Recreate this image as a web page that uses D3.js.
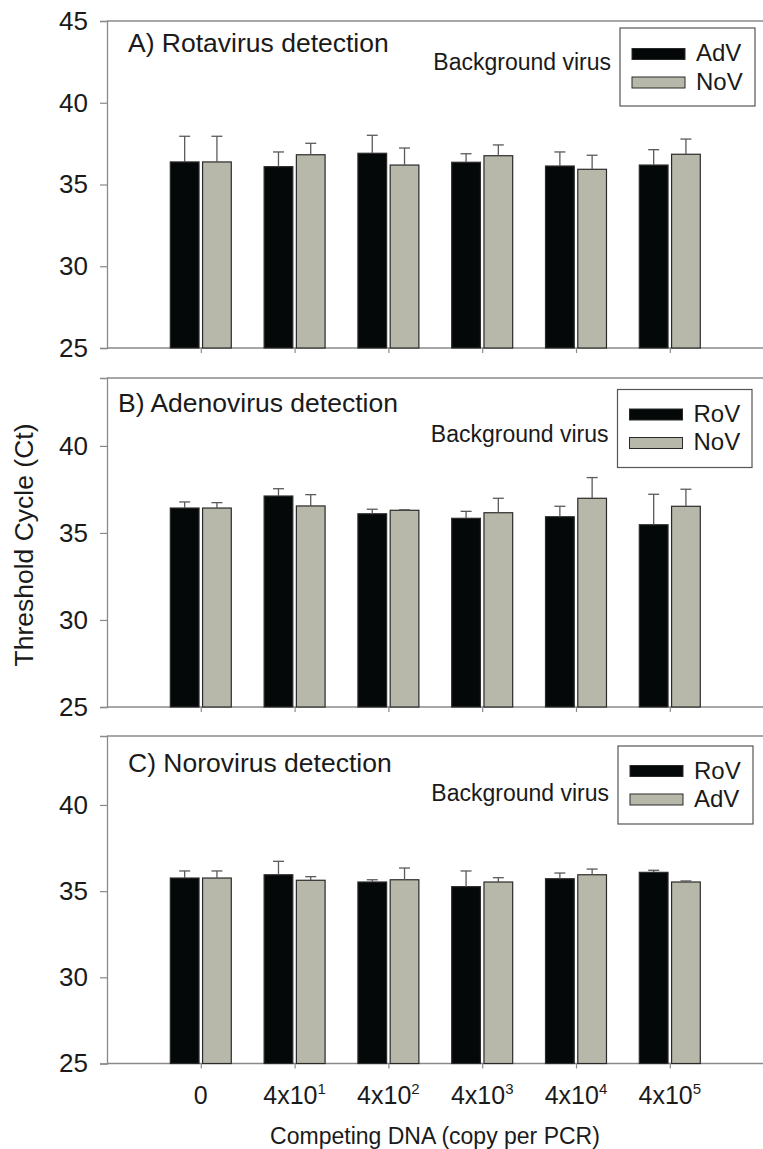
<!DOCTYPE html>
<html>
<head>
<meta charset="utf-8">
<script src="https://cdn.jsdelivr.net/npm/d3@7"></script>
<style>
  html, body { margin: 0; padding: 0; background: #ffffff; }
  svg { display: block; }
  text { font-family: "Liberation Sans", Arial, sans-serif; fill: #1a1a1a; }
</style>
</head>
<body>
<div id="chart"></div>
<script>
// ---------- DATA ----------
const categories = ["0", "4x10^1", "4x10^2", "4x10^3", "4x10^4", "4x10^5"];
const tickBase = ["0", "4x10", "4x10", "4x10", "4x10", "4x10"];
const tickExp  = ["", "1", "2", "3", "4", "5"];

const panelTitles = ["A) Rotavirus detection", "B) Adenovirus detection", "C) Norovirus detection"];
const legendTitle = "Background virus";
const seriesNamesA = ["AdV", "NoV"];
const seriesNamesB = ["RoV", "NoV"];
const seriesNamesC = ["RoV", "AdV"];

// Panel A: Rotavirus detection
const rotaAdV    = [36.38, 36.09, 36.91, 36.36, 36.13, 36.19];
const rotaAdVErr = [1.57, 0.90, 1.10, 0.52, 0.86, 0.94];
const rotaNoV    = [36.38, 36.82, 36.19, 36.76, 35.93, 36.85];
const rotaNoVErr = [1.57, 0.70, 1.04, 0.66, 0.86, 0.93];

// Panel B: Adenovirus detection
const adenoRoV    = [36.43, 37.12, 36.10, 35.84, 35.93, 35.47];
const adenoRoVErr = [0.35, 0.42, 0.26, 0.40, 0.60, 1.75];
const adenoNoV    = [36.43, 36.55, 36.30, 36.16, 36.99, 36.53];
const adenoNoVErr = [0.31, 0.65, 0.03, 0.83, 1.19, 0.98];

// Panel C: Norovirus detection
const noroRoV    = [35.76, 35.95, 35.53, 35.26, 35.72, 36.09];
const noroRoVErr = [0.41, 0.78, 0.13, 0.91, 0.33, 0.12];
const noroAdV    = [35.76, 35.63, 35.66, 35.53, 35.95, 35.53];
const noroAdVErr = [0.41, 0.21, 0.68, 0.25, 0.33, 0.06];

const yTicksA = [25, 30, 35, 40, 45];
const yTicksBC = [25, 30, 35, 40];

const axisTitleY = "Threshold Cycle (Ct)";
const axisTitleX = "Competing DNA (copy per PCR)";

// ---------- LAYOUT ----------
const W = 763, H = 1149;
const colBlack = "#050808", colGray = "#b8b8aa";
const axisCol = "#8a8a8a";

const svg = d3.select("#chart").append("svg").attr("width", W).attr("height", H);

const x = d3.scaleLinear().domain([0, 7]).range([107, 763.6]);
const series = d3.scaleBand().domain([0, 1]).range([-0.325, 0.325]).paddingInner(0.11);

const panels = [
  { title: panelTitles[0], names: seriesNamesA, vals: [rotaAdV, rotaNoV], errs: [rotaAdVErr, rotaNoVErr],
    domain: [25, 45], range: [348, 21], ticks: yTicksA, titleXY: [128, 52],
    legend: { box: [620, 28, 135, 78], t1: 61, t2: 89.5, sw1: 48.5, sw2: 77, bg: 70 } },
  { title: panelTitles[1], names: seriesNamesB, vals: [adenoRoV, adenoNoV], errs: [adenoRoVErr, adenoNoVErr],
    domain: [25, 43.9], range: [707, 378], ticks: yTicksBC, titleXY: [118, 412],
    legend: { box: [617.5, 389.5, 134.5, 78], t1: 422, t2: 450, sw1: 409, sw2: 437.5, bg: 441.5 } },
  { title: panelTitles[2], names: seriesNamesC, vals: [noroRoV, noroAdV], errs: [noroRoVErr, noroAdVErr],
    domain: [25, 44], range: [1063.5, 736], ticks: yTicksBC, titleXY: [128, 772],
    legend: { box: [618, 746, 135, 78], t1: 779, t2: 807, sw1: 765.5, sw2: 794, bg: 801 } }
];

panels.forEach((p, pi) => {
  const y = d3.scaleLinear().domain(p.domain).range(p.range);
  const g = svg.append("g");

  // frame: top line
  g.append("line").attr("x1", x(0)).attr("x2", W).attr("y1", y(p.domain[1])).attr("y2", y(p.domain[1]))
    .attr("stroke", axisCol).attr("stroke-width", 1.3);

  // y axis
  const yAxis = d3.axisLeft(y).tickValues(p.ticks).tickSize(7).tickPadding(12).tickFormat(d3.format("d"));
  const ya = g.append("g").attr("transform", `translate(${x(0)},0)`).call(yAxis);
  ya.select(".domain").attr("stroke", axisCol).attr("stroke-width", 1.3);
  ya.selectAll(".tick line").attr("stroke", axisCol).attr("stroke-width", 1.2);
  ya.selectAll(".tick text").attr("font-size", 26).attr("fill", "#1a1a1a")
    .attr("font-family", "'Liberation Sans', Arial, sans-serif");

  // x axis
  const xAxis = d3.axisBottom(x).tickValues(d3.range(1, 7)).tickSize(5).tickFormat("");
  const xa = g.append("g").attr("transform", `translate(0,${y(p.domain[0])})`).call(xAxis);
  xa.select(".domain").attr("stroke", axisCol).attr("stroke-width", 1.3).attr("d", `M${x(0)},0H${W}`);
  xa.selectAll(".tick line").attr("stroke", axisCol).attr("stroke-width", 1.2);

  // bars
  [0, 1].forEach(si => {
    const bw = x(series.bandwidth()) - x(0);
    g.selectAll(null).data(p.vals[si]).enter().append("rect")
      .attr("x", (d, i) => x(i + 1 + series(si)))
      .attr("width", bw)
      .attr("y", d => y(d))
      .attr("height", d => y(p.domain[0]) - y(d))
      .attr("fill", si === 0 ? colBlack : colGray)
      .attr("stroke", "#2a2a2a").attr("stroke-width", 1.2);

    // error bars (upward)
    const cx = i => x(i + 1 + series(si)) + bw / 2;
    g.selectAll(null).data(p.vals[si]).enter().append("line")
      .attr("x1", (d, i) => cx(i)).attr("x2", (d, i) => cx(i))
      .attr("y1", d => y(d)).attr("y2", (d, i) => y(d + p.errs[si][i]))
      .attr("stroke", "#5a5a5a").attr("stroke-width", 1.3);
    g.selectAll(null).data(p.vals[si]).enter().append("line")
      .attr("x1", (d, i) => cx(i) - 5.5).attr("x2", (d, i) => cx(i) + 5.5)
      .attr("y1", (d, i) => y(d + p.errs[si][i])).attr("y2", (d, i) => y(d + p.errs[si][i]))
      .attr("stroke", "#5a5a5a").attr("stroke-width", 1.3);
  });

  // title
  g.append("text").attr("x", p.titleXY[0]).attr("y", p.titleXY[1])
    .attr("font-size", 26.5).text(p.title);

  // legend
  const L = p.legend;
  g.append("rect").attr("x", L.box[0]).attr("y", L.box[1]).attr("width", L.box[2]).attr("height", L.box[3])
    .attr("fill", "#fff").attr("stroke", "#555").attr("stroke-width", 1.2);
  const swX = L.box[0] + 12, swW = 53, swH = 11;
  g.append("rect").attr("x", swX).attr("y", L.sw1).attr("width", swW).attr("height", swH)
    .attr("fill", colBlack).attr("stroke", "#2a2a2a").attr("stroke-width", 1);
  g.append("rect").attr("x", swX).attr("y", L.sw2).attr("width", swW).attr("height", swH)
    .attr("fill", colGray).attr("stroke", "#2a2a2a").attr("stroke-width", 1);
  g.append("text").attr("x", swX + swW + 11).attr("y", L.t1).attr("font-size", 24).text(p.names[0]);
  g.append("text").attr("x", swX + swW + 11).attr("y", L.t2).attr("font-size", 24).text(p.names[1]);
  g.append("text").attr("x", L.box[0] - 9).attr("y", L.bg).attr("text-anchor", "end")
    .attr("font-size", 23).text(legendTitle);

  // x tick labels on last panel
  if (pi === 2) {
    tickBase.forEach((b, i) => {
      const t = g.append("text").attr("x", x(i + 1)).attr("y", 1103.5)
        .attr("text-anchor", "middle").attr("font-size", 25);
      t.append("tspan").text(b);
      if (tickExp[i]) t.append("tspan").attr("font-size", 15).attr("dy", -10).text(tickExp[i]);
    });
  }
});

// axis titles
svg.append("text").attr("transform", "translate(33,545) rotate(-90)")
  .attr("text-anchor", "middle").attr("font-size", 26.5).text(axisTitleY);
svg.append("text").attr("x", 435).attr("y", 1143.5).attr("text-anchor", "middle")
  .attr("font-size", 23).text(axisTitleX);
</script>
</body>
</html>
